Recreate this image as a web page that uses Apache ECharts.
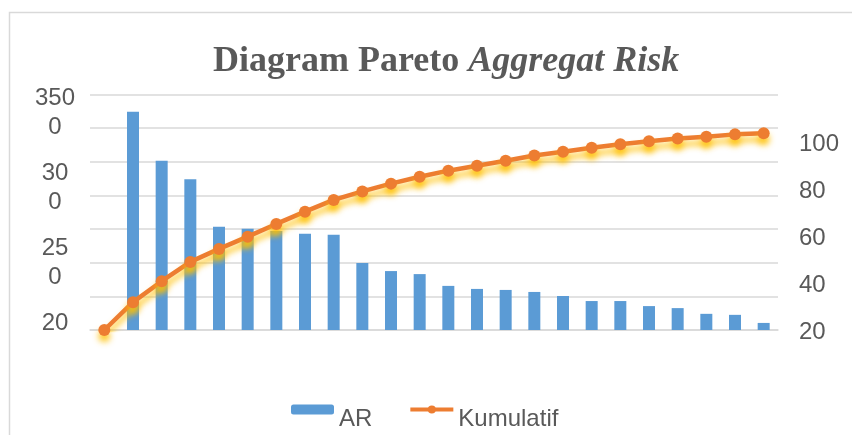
<!DOCTYPE html>
<html>
<head>
<meta charset="utf-8">
<script src="https://cdn.jsdelivr.net/npm/echarts@6/dist/echarts.min.js"></script>
<style>
  html, body { margin: 0; padding: 0; background: #fff; }
  #chartDiv { width: 852px; height: 435px; }
</style>
</head>
<body>
<div id="chartDiv"></div>
<script>
// Data
const categories = ['0', '1', '2', '3', '4', '5', '6', '7', '8', '9', '10', '11',
    '12', '13', '14', '15', '16', '17', '18', '19', '20', '21', '22', '23'];
const arValues = [null, 3240, 2515, 2240, 1535, 1505, 1470, 1430, 1415, 995, 875, 830,
    655, 610, 595, 565, 505, 430, 430, 355, 325, 240, 225, 105];
const kumulatifValues = [20, 31.8, 40.7, 48.9, 54.4, 59.6, 65, 70.2, 75.2, 78.8, 82.1, 85,
    87.6, 89.7, 91.8, 94, 95.6, 97.3, 98.8, 100.1, 101.2, 102, 103, 103.5];
// left tick labels as they appear (wrapped) in the original, bottom to top
const leftTickLabels = ['20\n ', '25\n0', '30\n0', '350\n0', ''];

const TEXT_COLOR = '#595959';
const GRID_COLOR = '#D9D9D9';

function renderChart() {
    const chartDom = document.getElementById('chartDiv');
    const myChart = echarts.init(chartDom, null, { renderer: 'canvas' });

    const option = {
        backgroundColor: '#fff',
        animation: false,
        title: {
            text: '{a|Diagram Pareto }{b|Aggregat Risk}',
            left: 208,
            top: 39,
            textStyle: {
                rich: {
                    a: { fontFamily: 'Liberation Serif', fontWeight: 'bold', fontSize: 36, color: TEXT_COLOR },
                    b: { fontFamily: 'Liberation Serif', fontWeight: 'bold', fontStyle: 'italic', fontSize: 36, color: TEXT_COLOR }
                }
            }
        },
        legend: {
            data: ['AR', 'Kumulatif'],
            left: 286,
            top: 383,
            itemWidth: 43,
            itemHeight: 10,
            itemGap: 36,
            lineStyle: { width: 4 },
            // blank first line pushes the name below the icon centre, as in the original
            formatter: name => ' \n' + name,
            textStyle: {
                fontFamily: 'Liberation Sans',
                fontSize: 24,
                lineHeight: 19,
                color: TEXT_COLOR
            }
        },
        graphic: [{
            type: 'rect',
            z: -10,
            shape: { x: 9.5, y: 12.5, width: 1000, height: 1000 },
            style: { fill: 'none', stroke: GRID_COLOR, lineWidth: 1.5 }
        }],
        grid: [
            { left: 90, right: 74, top: 94.3, bottom: 105 },
            { left: 90, right: 74, top: 37.5, bottom: 97.5 }
        ],
        xAxis: [
            {
                type: 'category',
                gridIndex: 0,
                data: categories,
                axisLabel: { show: false },
                axisTick: { show: false },
                axisLine: { lineStyle: { color: GRID_COLOR, width: 1.5 } }
            },
            {
                type: 'category',
                gridIndex: 1,
                data: categories,
                show: false
            }
        ],
        yAxis: [
            {
                type: 'value',
                gridIndex: 0,
                min: 0,
                max: 3500,
                interval: 500,
                axisLabel: { show: false },
                axisLine: { show: false },
                axisTick: { show: false },
                splitLine: { lineStyle: { color: GRID_COLOR, width: 1.5 } }
            },
            {
                type: 'value',
                gridIndex: 0,
                position: 'right',
                min: 20,
                max: 120,
                interval: 20,
                axisLine: { show: false },
                axisTick: { show: false },
                splitLine: { show: false },
                axisLabel: {
                    showMaxLabel: false,
                    margin: 21,
                    formatter: v => '{v|' + v + '}',
                    rich: {
                        v: {
                            fontFamily: 'Liberation Sans',
                            fontSize: 24,
                            color: TEXT_COLOR,
                            padding: [5, 0, 0, 0]
                        }
                    }
                }
            },
            {
                type: 'value',
                gridIndex: 1,
                position: 'left',
                min: 0,
                max: 4,
                interval: 1,
                axisLine: { show: false },
                axisTick: { show: false },
                splitLine: { show: false },
                axisLabel: {
                    margin: 35,
                    align: 'center',
                    fontFamily: 'Liberation Sans',
                    fontSize: 24,
                    lineHeight: 29,
                    color: TEXT_COLOR,
                    formatter: v => leftTickLabels[v] || ''
                }
            }
        ],
        series: [
            {
                name: 'AR',
                type: 'bar',
                xAxisIndex: 0,
                yAxisIndex: 0,
                data: arValues,
                barWidth: 12,
                itemStyle: { color: '#5B9BD5' }
            },
            {
                name: 'Kumulatif',
                type: 'line',
                xAxisIndex: 0,
                yAxisIndex: 1,
                data: kumulatifValues,
                symbol: 'circle',
                symbolSize: 12,
                lineStyle: {
                    width: 4.5,
                    color: '#ED7D31',
                    shadowColor: 'rgba(255, 192, 0, 0.85)',
                    shadowBlur: 6,
                    shadowOffsetY: 6
                },
                itemStyle: {
                    color: '#ED7D31',
                    shadowColor: 'rgba(255, 192, 0, 0.85)',
                    shadowBlur: 6,
                    shadowOffsetY: 6
                }
            }
        ]
    };

    myChart.setOption(option);
}

renderChart();
</script>
</body>
</html>
